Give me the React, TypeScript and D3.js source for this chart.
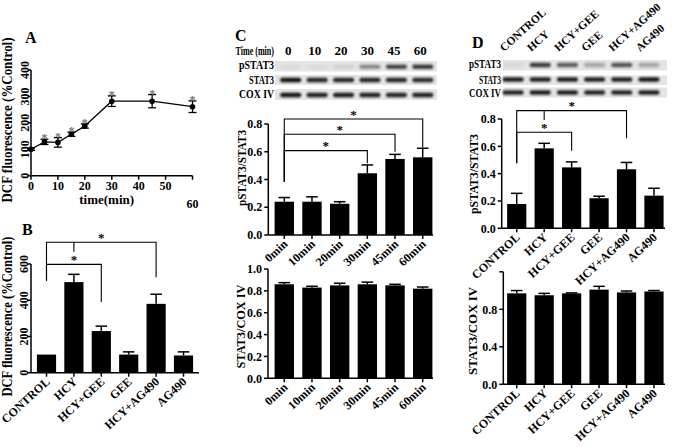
import React from 'react';
import * as d3 from 'd3';

const FONT = '"Liberation Serif","Times New Roman",serif';

// ---------- Panel A: DCF fluorescence over time ----------
const timesA = [0, 5, 10, 15, 20, 30, 45, 60];
const dcfA = [100, 128, 126, 157, 188, 282, 282, 261];
const dcfErrA = [4, 10, 18, 8, 8, 20, 25, 22];
const sigA = [false, true, true, true, true, true, true, true];
const xTicksA = [0, 10, 20, 30, 40, 50];
const yTicksA = [0, 100, 200, 300, 400];

// ---------- Panel B ----------
const groups = ['CONTROL', 'HCY', 'HCY+GEE', 'GEE', 'HCY+AG490', 'AG490'];
const dcfB = [100, 500, 230, 100, 380, 95];
const dcfErrB = [0, 43, 27, 15, 53, 20];
const yTicksB = [0, 200, 400, 600];
const bracketsB = [
  { from: 'CONTROL', to: 'HCY+AG490', level: 720, leftDrop: 508, rightDrop: 527 },
  { from: 'CONTROL', to: 'HCY+GEE', level: 598, leftDrop: 508, rightDrop: 390, stem: [720, 668] },
];

// ---------- Panel C ----------
const timeCats = ['0min', '10min', '20min', '30min', '45min', '60min'];
const timeHeads = ['0', '10', '20', '30', '45', '60'];
const pRatioC = [0.24, 0.24, 0.225, 0.445, 0.548, 0.56];
const pRatioErrC = [0.03, 0.035, 0.015, 0.06, 0.033, 0.065];
const sRatioC = [0.86, 0.83, 0.85, 0.86, 0.85, 0.82];
const sRatioErrC = [0.015, 0.012, 0.02, 0.02, 0.01, 0.015];
const yTicksRatio = [0, 0.2, 0.4, 0.6, 0.8];
const yTicksCoxC = [0, 0.2, 0.4, 0.6, 0.8, 1.0];
const bracketsC = [
  { from: '0min', to: '60min', level: 0.836, leftDrop: 0.384, rightDrop: 0.63 },
  { from: '0min', to: '45min', level: 0.726, leftDrop: 0.384, rightDrop: 0.6 },
  { from: '0min', to: '30min', level: 0.608, leftDrop: 0.384, rightDrop: 0.517 },
];
const blotCp = [0.04, 0.04, 0.08, 0.4, 0.72, 0.78];
const blotCs = [0.97, 0.88, 0.88, 0.88, 0.88, 0.85];
const blotCc = [0.95, 0.9, 0.92, 0.9, 0.88, 0.9];

// ---------- Panel D ----------
const pRatioD = [0.178, 0.585, 0.446, 0.22, 0.432, 0.239];
const pRatioErrD = [0.078, 0.037, 0.04, 0.015, 0.05, 0.054];
const sRatioD = [0.97, 0.95, 0.97, 1.01, 0.98, 0.99];
const sRatioErrD = [0.03, 0.02, 0.005, 0.035, 0.015, 0.01];
const yTicksCoxD = [0, 0.4, 0.8, 1.2];
const bracketsD = [
  { from: 'CONTROL', to: 'HCY+AG490', level: 0.861, leftDrop: 0.476, rightDrop: 0.659 },
  { from: 'CONTROL', to: 'HCY+GEE', level: 0.703, leftDrop: 0.476, rightDrop: 0.568, stem: [0.861, 0.793] },
];
const blotDp = [0.06, 0.78, 0.62, 0.28, 0.66, 0.28];
const blotDs = [0.92, 0.9, 0.92, 0.9, 0.9, 0.94];
const blotDc = [0.88, 0.92, 0.9, 0.88, 0.88, 0.9];

const B: React.CSSProperties = { fontFamily: FONT, fontWeight: 700 };

type Bracket = { from: string; to: string; level: number; leftDrop: number; rightDrop: number; stem?: number[] };

function RotLabel({ x, y, text, size = 12 }: { x: number; y: number; text: string; size?: number }) {
  return (
    <g transform={`translate(${x},${y})`}>
      <text transform="rotate(-90)" textAnchor="middle" fontSize={size} fill="#000"
        fontFamily={FONT} fontWeight={700}>
        {text}
      </text>
    </g>
  );
}

function BarPanel(p: {
  cats: string[]; vals: number[]; errs: number[]; xr: [number, number]; axisX: number; axisEnd: number;
  y0: number; yTop: number; dmax: number; ticks: number[]; fmt: (v: number) => string; rotY?: boolean;
  hideLabel?: (v: number) => boolean; brackets?: Bracket[];
  title: string; tx: number; ty: number; tlen: number; tsize: number;
}) {
  const x = d3.scaleBand<string>().domain(p.cats).range(p.xr).paddingInner(0.3).paddingOuter(0.15);
  const y = d3.scaleLinear().domain([0, p.dmax]).range([p.y0, p.yTop]);
  const bw = x.bandwidth();
  const cx = (c: string) => (x(c) as number) + bw / 2;
  const cap = bw * 0.3;
  return (
    <g>
      {p.cats.map((c, i) => (
        <g key={c}>
          {p.errs[i] > 0 && (
            <g stroke="#000" strokeWidth={1.5}>
              <line x1={cx(c)} x2={cx(c)} y1={y(p.vals[i])} y2={y(p.vals[i] + p.errs[i])} />
              <line x1={cx(c) - cap} x2={cx(c) + cap} y1={y(p.vals[i] + p.errs[i])} y2={y(p.vals[i] + p.errs[i])} />
            </g>
          )}
          <rect x={x(c)} y={y(p.vals[i])} width={bw} height={p.y0 - y(p.vals[i])} fill="#000" />
        </g>
      ))}
      {/* y axis */}
      <line x1={p.axisX} x2={p.axisX} y1={p.y0} y2={y(p.dmax)} stroke="#000" strokeWidth={1.5} />
      {p.ticks.map((t) => {
        const ty = y(t);
        return (
          <g key={t}>
            <line x1={p.axisX - 4} x2={p.axisX} y1={ty} y2={ty} stroke="#000" strokeWidth={1.5} />
            {!(p.hideLabel && p.hideLabel(t)) &&
              (p.rotY ? (
                <RotLabel x={p.axisX - 3} y={ty} text={p.fmt(t)} />
              ) : (
                <text x={p.axisX - 6} y={ty} dy="0.35em" textAnchor="end" fontSize={12} fill="#000" style={B}>
                  {p.fmt(t)}
                </text>
              ))}
          </g>
        );
      })}
      {/* x axis */}
      <line x1={p.axisX} x2={p.axisEnd} y1={p.y0} y2={p.y0} stroke="#000" strokeWidth={1.5} />
      {p.cats.map((c) => (
        <g key={'xt' + c}>
          <line x1={cx(c)} x2={cx(c)} y1={p.y0} y2={p.y0 + 4} stroke="#000" strokeWidth={1.5} />
          <text transform={`translate(${cx(c) + 4},${p.y0 + 10}) rotate(-43)`} textAnchor="end" fontSize={12} style={B}>
            {c}
          </text>
        </g>
      ))}
      {/* significance brackets */}
      {(p.brackets || []).map((b, i) => {
        const x1 = cx(b.from), x2 = cx(b.to), ly = y(b.level);
        const xm = (x1 + x2) / 2;
        return (
          <g key={'br' + i}>
            <path d={`M${x1},${y(b.leftDrop)}V${ly}H${x2}V${y(b.rightDrop)}`} fill="none" stroke="#000" strokeWidth={1.1} />
            {b.stem && <line x1={xm} x2={xm} y1={y(b.stem[0])} y2={y(b.stem[1])} stroke="#000" strokeWidth={1.1} />}
            <text x={xm} y={ly - 0.5} textAnchor="middle" fontSize={13} style={B}>*</text>
          </g>
        );
      })}
      <text transform={`translate(${p.tx},${p.ty}) rotate(-90)`} textAnchor="middle" fontSize={p.tsize} style={B}
        textLength={p.tlen} lengthAdjust="spacingAndGlyphs">
        {p.title}
      </text>
    </g>
  );
}

function Blot(p: {
  x0: number; x1: number; laneRange: [number, number]; labelX: number;
  rows: { label: string; vals: number[]; top: number; bottom: number; band: number; len: number; base: number }[];
}) {
  const lanes = d3.scaleBand<number>().domain(d3.range(6)).range(p.laneRange);
  const bandW = 21;
  return (
    <g>
      {p.rows.map((r) => (
        <g key={r.label}>
          <rect x={p.x0} y={r.top} width={p.x1 - p.x0} height={r.bottom - r.top} fill="#e4e4e4" />
          {r.vals.map((v, i) => {
            const c = (lanes(i) as number) + lanes.bandwidth() / 2;
            return (
              <rect key={i} x={c - bandW / 2} y={r.band - 2.2} width={bandW} height={4.4} rx={2}
                fill="#111" opacity={v} filter="url(#blur)" />
            );
          })}
          <text x={p.labelX} y={r.base} textAnchor="end" fontSize={12} style={B}
            textLength={r.len} lengthAdjust="spacingAndGlyphs">
            {r.label}
          </text>
        </g>
      ))}
    </g>
  );
}

function PanelA() {
  const x = d3.scaleLinear().domain([0, 60]).range([31, 192.5]);
  const y = d3.scaleLinear().domain([0, 400]).range([175.7, 70]);
  const line = d3.line<number>().x((d, i) => x(timesA[i])).y((d) => y(d));
  return (
    <g>
      <path d={line(dcfA) || ''} fill="none" stroke="#000" strokeWidth={1.3} />
      {timesA.map((t, i) => (
        <g key={t}>
          {dcfErrA[i] > 0 && (
            <g stroke="#000" strokeWidth={1.3}>
              <line x1={x(t)} x2={x(t)} y1={y(dcfA[i] - dcfErrA[i])} y2={y(dcfA[i] + dcfErrA[i])} />
              <line x1={x(t) - 4} x2={x(t) + 4} y1={y(dcfA[i] + dcfErrA[i])} y2={y(dcfA[i] + dcfErrA[i])} />
              <line x1={x(t) - 4} x2={x(t) + 4} y1={y(dcfA[i] - dcfErrA[i])} y2={y(dcfA[i] - dcfErrA[i])} />
            </g>
          )}
          <circle cx={x(t)} cy={y(dcfA[i])} r={2.8} fill="#000" />
          {sigA[i] && (
            <text x={x(t)} y={y(dcfA[i] + dcfErrA[i]) + 3} textAnchor="middle" fontSize={12} fill="#777" style={B}>*</text>
          )}
        </g>
      ))}
      <line x1={31} x2={31} y1={175.7} y2={70} stroke="#000" strokeWidth={1.5} />
      {yTicksA.map((t) => (
        <g key={t}>
          <line x1={27.5} x2={31} y1={y(t)} y2={y(t)} stroke="#000" strokeWidth={1.5} />
          <RotLabel x={28.5} y={y(t)} text={String(t)} />
        </g>
      ))}
      <line x1={31} x2={192.5} y1={175.7} y2={175.7} stroke="#000" strokeWidth={1.5} />
      {[...xTicksA, 60].map((t) => (
        <line key={t} x1={x(t)} x2={x(t)} y1={175.7} y2={179.7} stroke="#000" strokeWidth={1.5} />
      ))}
      {xTicksA.map((t) => (
        <text key={'l' + t} x={x(t)} y={190} textAnchor="middle" fontSize={12} style={B}>{t}</text>
      ))}
      <text x={106.7} y={204} textAnchor="middle" fontSize={13} style={B}>time(min)</text>
      <text x={x(60)} y={207.5} textAnchor="middle" fontSize={12} style={B}>60</text>
      <text transform="translate(12,120) rotate(-90)" textAnchor="middle" fontSize={14} style={B}
        textLength={165} lengthAdjust="spacingAndGlyphs">DCF fluorescence (%Control)</text>
      <text x={25} y={43} fontSize={16} style={B}>A</text>
    </g>
  );
}

export default function App() {
  const laneC = d3.scaleBand<number>().domain(d3.range(6)).range([277.5, 436]);
  const laneD = d3.scaleBand<number>().domain(d3.range(6)).range([499.5, 662.5]);
  const f1 = (v: number) => v.toFixed(1);
  return (
    <svg width={675} height={447} style={{ position: 'absolute', left: 0, top: 0, background: '#fff' }}>
      <defs>
        <filter id="blur" x="-20%" y="-100%" width="140%" height="300%">
          <feGaussianBlur stdDeviation="0.8" />
        </filter>
      </defs>
      <rect width={675} height={447} fill="#fff" />
      <PanelA />

      {/* Panel B */}
      <text x={22} y={235} fontSize={16} style={B}>B</text>
      <BarPanel cats={groups} vals={dcfB} errs={dcfErrB} xr={[32.8, 197.2]} axisX={31} axisEnd={199}
        y0={372.7} yTop={264} dmax={600} ticks={yTicksB} fmt={(v) => String(v)} rotY brackets={bracketsB}
        title="DCF fluorescence (%Control)" tx={12} ty={316.5} tlen={160} tsize={14} />

      {/* Panel C */}
      <text x={235} y={40.5} fontSize={16} style={B}>C</text>
      <text transform="translate(235.5,55) scale(0.62,1)" fontSize={13} style={B}>Time (min)</text>
      {timeHeads.map((t, i) => (
        <text key={t} x={(laneC(i) as number) + laneC.bandwidth() / 2 - 2.5} y={55} textAnchor="middle" fontSize={13} style={B}>{t}</text>
      ))}
      <Blot x0={275} x1={437} laneRange={[277.5, 436]} labelX={274}
        rows={[
          { label: 'pSTAT3', vals: blotCp, top: 61, bottom: 71.5, band: 66.7, len: 35, base: 68.5 },
          { label: 'STAT3', vals: blotCs, top: 75, bottom: 85, band: 80, len: 25, base: 84 },
          { label: 'COX IV', vals: blotCc, top: 89, bottom: 100, band: 95, len: 35, base: 97.5 },
        ]} />
      <BarPanel cats={timeCats} vals={pRatioC} errs={pRatioErrC} xr={[270.45, 436.55]} axisX={268.3} axisEnd={433}
        y0={235} yTop={124} dmax={0.8} ticks={yTicksRatio} fmt={f1} brackets={bracketsC}
        title="pSTAT3/STAT3" tx={246} ty={168} tlen={76} tsize={12} />
      <BarPanel cats={timeCats} vals={sRatioC} errs={sRatioErrC} xr={[270.45, 436.55]} axisX={268} axisEnd={433}
        y0={378.3} yTop={269} dmax={1.0} ticks={yTicksCoxC} fmt={f1}
        title="STAT3/COX IV" tx={245} ty={326.5} tlen={84} tsize={12} />

      {/* Panel D */}
      <text x={472} y={48} fontSize={16} style={B}>D</text>
      {groups.map((g, i) => (
        <text key={g} transform={`translate(${(laneD(i) as number) + laneD.bandwidth() / 2 - 9},52) rotate(-42)`}
          fontSize={11.3} style={B}>{g}</text>
      ))}
      <Blot x0={503} x1={667} laneRange={[499.5, 662.5]} labelX={501}
        rows={[
          { label: 'pSTAT3', vals: blotDp, top: 60, bottom: 70.5, band: 65, len: 32, base: 68 },
          { label: 'STAT3', vals: blotDs, top: 75.5, bottom: 85, band: 79.5, len: 22, base: 83.5 },
          { label: 'COX IV', vals: blotDc, top: 87.5, bottom: 97.5, band: 92.5, len: 32, base: 96.5 },
        ]} />
      <BarPanel cats={groups} vals={pRatioD} errs={pRatioErrD} xr={[503, 667.7]} axisX={501.7} axisEnd={665}
        y0={228.3} yTop={119} dmax={0.8} ticks={yTicksRatio} fmt={f1} brackets={bracketsD}
        title="pSTAT3/STAT3" tx={478} ty={174} tlen={80} tsize={12} />
      <BarPanel cats={groups} vals={sRatioD} errs={sRatioErrD} xr={[503, 667.7]} axisX={503.3} axisEnd={665}
        y0={384.3} yTop={271.8} dmax={1.2} ticks={yTicksCoxD} fmt={f1} hideLabel={(v) => v > 1}
        title="STAT3/COX IV" tx={477} ty={331} tlen={88} tsize={12} />
    </svg>
  );
}
